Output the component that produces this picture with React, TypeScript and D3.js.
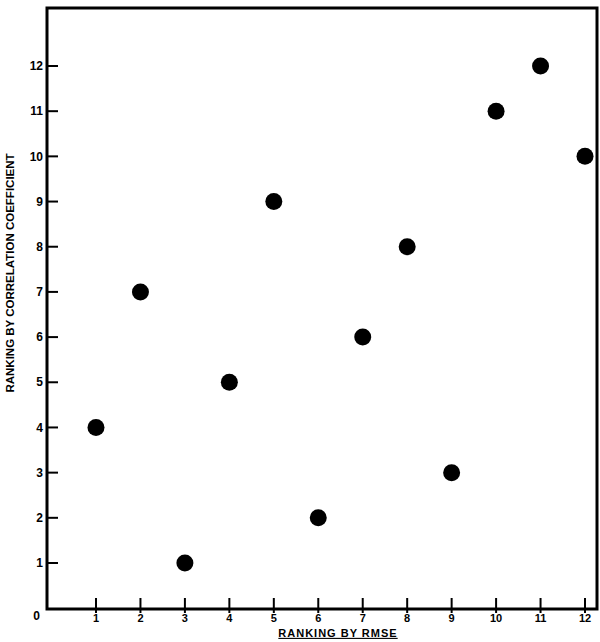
import React from 'react';
import * as d3 from 'd3';

const RMSE_RANK = [1, 2, 3, 4, 5, 6, 7, 8, 9, 10, 11, 12];
const CORR_RANK = [4, 7, 1, 5, 9, 2, 6, 8, 3, 11, 12, 10];
const X_TICKS = [1, 2, 3, 4, 5, 6, 7, 8, 9, 10, 11, 12];
const Y_TICKS = [1, 2, 3, 4, 5, 6, 7, 8, 9, 10, 11, 12];

const W = 600, H = 642;
const m = { l: 47, r: 597, t: 8, b: 609 };

export default function App() {
  // data scale; axis frame sits a bit left of zero in x
  const x = d3.scaleLinear().domain([1, 12]).range([96, 585]);
  const y = d3.scaleLinear().domain([1, 12]).range([563, 66]);
  const pts = RMSE_RANK.map((r, i) => ({ x: r, y: CORR_RANK[i] }));
  const font = "'Liberation Sans', Arial, sans-serif";

  return (
    <svg width={W} height={H} style={{ position: 'absolute', left: 0, top: 0, background: '#fff' }}
      fontFamily={font} fontWeight="bold">
      {/* frame */}
      <rect x={m.l} y={m.t} width={m.r - m.l} height={m.b - m.t} fill="none" stroke="#000" strokeWidth={3} />

      {/* y ticks, inward */}
      {Y_TICKS.map(t => (
        <g key={'y' + t}>
          <line x1={m.l} x2={m.l + 11} y1={y(t)} y2={y(t)} stroke="#000" strokeWidth={2} />
          <text x={m.l - 4} y={y(t)} dy="0.35em" textAnchor="end" fontSize={12}>{t}</text>
        </g>
      ))}
      <text x={m.l - 7} y={m.b + 7} dy="0.35em" textAnchor="end" fontSize={12}>0</text>

      {/* x ticks, crossing */}
      {X_TICKS.map(t => (
        <g key={'x' + t}>
          <line x1={x(t)} x2={x(t)} y1={m.b - 11} y2={m.b + 4} stroke="#000" strokeWidth={2} />
          <text x={x(t)} y={m.b + 9} dy="0.35em" textAnchor="middle" fontSize={11}>{t}</text>
        </g>
      ))}

      {/* points */}
      {pts.map((p, i) => (
        <circle key={i} cx={x(p.x)} cy={y(p.y)} r={8.5} fill="#000" />
      ))}

      {/* axis titles */}
      <text transform={`translate(14,273) rotate(-90)`} textAnchor="middle" fontSize={11.5}>
        RANKING BY CORRELATION COEFFICIENT
      </text>
      <text x={338} y={633} dy="0.35em" textAnchor="middle" fontSize={11} letterSpacing={1}
        textDecoration="underline">
        RANKING BY RMSE
      </text>
    </svg>
  );
}
